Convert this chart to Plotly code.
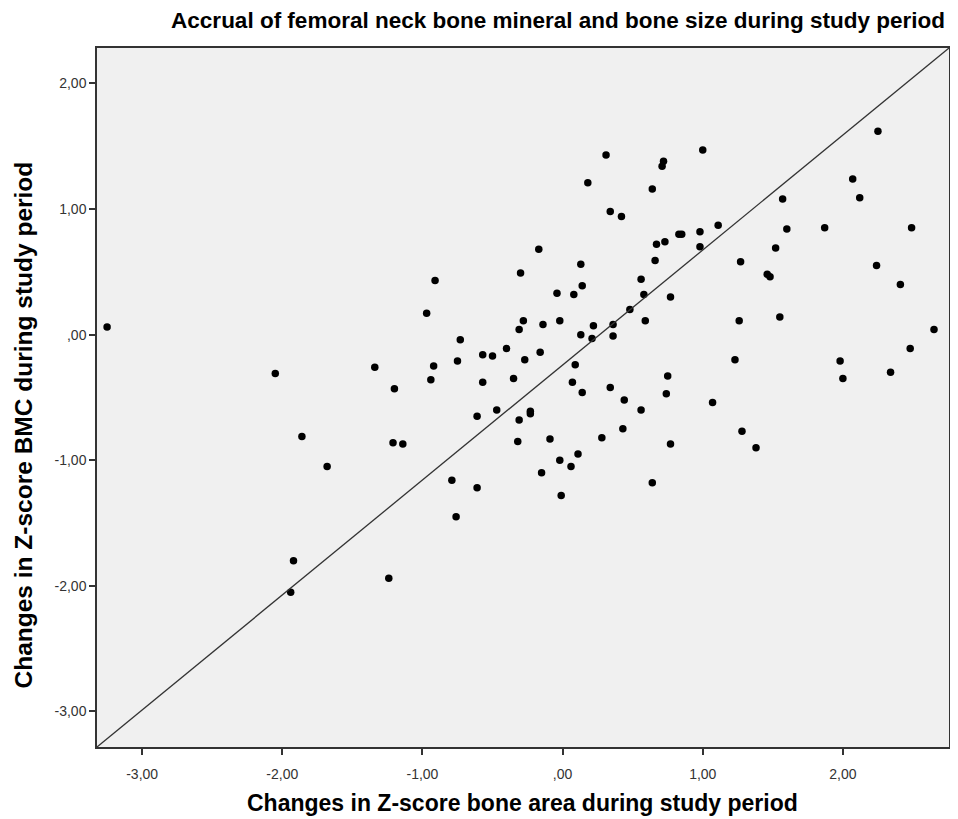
import plotly.graph_objects as go

# Changes in Z-score bone area (x) and Z-score BMC (y)
area_change = [
    -3.25, -2.05, -1.86, -1.68, 0.18, -0.17, 0.13, -0.30, 0.14, -0.04,
    0.08, -0.91, -0.97, -0.28, -0.31, -0.14, -0.02, 0.13, 0.22, 0.21,
    -0.73, 0.31, 1.00, 0.72, 0.71, 0.64, 0.34, 0.42, 2.25, 2.07,
    2.12, 1.57, 1.60, 1.87, 2.49, 1.11, 0.98, 0.83, 0.85, 0.73,
    0.67, 0.98, 0.66, 0.56, 0.58, 0.77, 0.48, 0.36, 0.59, 0.36,
    1.27, 1.52, 1.46, 1.48, 2.24, 2.41, 1.26, 1.55, 2.65, -1.34,
    -1.20, -0.92, -0.94, -0.75, -0.57, -0.50, -0.40, -0.27, -0.16, 0.09,
    0.07, 0.14, -0.57, -0.35, -0.61, -0.47, -0.31, -0.23, -0.23, -0.32,
    -0.09, -0.02, 0.06, 0.11, -0.15, -0.01, -1.21, -1.14, -0.79, -0.61,
    -0.76, -1.92, -1.94, -1.24, 1.23, 1.98, 2.00, 2.48, 2.34, 0.75,
    0.34, 0.44, 0.74, 0.56, 1.07, 0.28, 0.43, 0.77, 1.28, 1.38,
    0.64,
]
bmc_change = [
    0.06, -0.31, -0.81, -1.05, 1.21, 0.68, 0.56, 0.49, 0.39, 0.33,
    0.32, 0.43, 0.17, 0.11, 0.04, 0.08, 0.11, 0.00, 0.07, -0.03,
    -0.04, 1.43, 1.47, 1.38, 1.34, 1.16, 0.98, 0.94, 1.62, 1.24,
    1.09, 1.08, 0.84, 0.85, 0.85, 0.87, 0.82, 0.80, 0.80, 0.74,
    0.72, 0.70, 0.59, 0.44, 0.32, 0.30, 0.20, 0.08, 0.11, -0.01,
    0.58, 0.69, 0.48, 0.46, 0.55, 0.40, 0.11, 0.14, 0.04, -0.26,
    -0.43, -0.25, -0.36, -0.21, -0.16, -0.17, -0.11, -0.20, -0.14, -0.24,
    -0.38, -0.46, -0.38, -0.35, -0.65, -0.60, -0.68, -0.61, -0.63, -0.85,
    -0.83, -1.00, -1.05, -0.95, -1.10, -1.28, -0.86, -0.87, -1.16, -1.22,
    -1.45, -1.80, -2.05, -1.94, -0.20, -0.21, -0.35, -0.11, -0.30, -0.33,
    -0.42, -0.52, -0.47, -0.60, -0.54, -0.82, -0.75, -0.87, -0.77, -0.90,
    -1.18,
]

tick_vals = [-3, -2, -1, 0, 1, 2]
tick_text = ["-3,00", "-2,00", "-1,00", ",00", "1,00", "2,00"]
x_range = [-3.322, 2.757]
y_range = [-3.283, 2.282]

title_text = "Accrual of femoral neck bone mineral and bone size during study period"
x_title = "Changes in Z-score bone area during study period"
y_title = "Changes in Z-score BMC during study period"

FONT = "Liberation Sans, Arial, sans-serif"
# the page adds an 8px body margin, so the figure is laid out 8px smaller
W, H = 950, 811
L, R, T, B = 89, 9, 40, 72
PW, PH = W - L - R, H - T - B

fig = go.Figure()
fig.add_trace(go.Scatter(
    x=area_change, y=bmc_change, mode="markers",
    marker=dict(color="black", size=7.5, line=dict(width=0)),
    showlegend=False, hoverinfo="x+y",
))

# diagonal reference line from corner to corner of the plot area
fig.add_shape(type="line", xref="paper", yref="paper", x0=0, y0=0, x1=1, y1=1,
              line=dict(color="#333333", width=1.3), layer="above")

axis_common = dict(
    tickvals=tick_vals, ticktext=tick_text,
    showgrid=False, zeroline=False, showline=True, mirror=True,
    linecolor="#333333", linewidth=1.5, automargin=False,
    ticks="outside", ticklen=6, tickwidth=1.5, tickcolor="#333333",
    tickfont=dict(family=FONT, size=14, color="#333333"),
)

fig.add_annotation(text="<b>" + x_title + "</b>", xref="paper", yref="paper",
                   x=(514.5 - L) / PW, y=-(795 - (H - B)) / PH,
                   xanchor="center", yanchor="middle", showarrow=False,
                   font=dict(family=FONT, size=23, color="black"))
fig.add_annotation(text="<b>" + y_title + "</b>", xref="paper", yref="paper",
                   x=-(L - 14.5) / PW, y=((H - B) - 417) / PH,
                   xanchor="center", yanchor="middle", showarrow=False, textangle=-90,
                   font=dict(family=FONT, size=24.5, color="black"))

fig.update_layout(
    width=W, height=H,
    margin=dict(l=L, r=R, t=T, b=B, autoexpand=False),
    paper_bgcolor="white", plot_bgcolor="#F0F0F0",
    title=dict(text="<b>" + title_text + "</b>", xref="container", yref="container",
               x=937 / W, xanchor="right", y=1 - 12.5 / H, yanchor="middle",
               font=dict(family=FONT, size=22.5, color="black")),
    xaxis=dict(**axis_common, range=x_range, ticklabelstandoff=7),
    yaxis=dict(**axis_common, range=y_range),
)

fig.write_html("out.html")
